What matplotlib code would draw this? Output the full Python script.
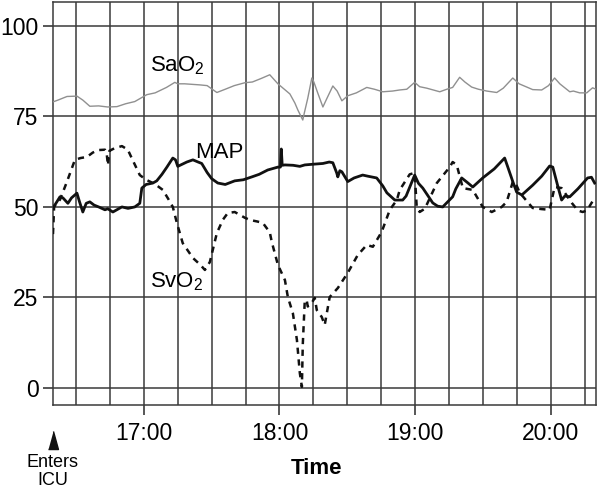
import matplotlib
matplotlib.use("Agg")
import matplotlib.pyplot as plt
from matplotlib.ticker import FixedLocator

plt.rcParams['font.family'] = ['Liberation Sans', 'DejaVu Sans']
plt.rcParams['mathtext.default'] = 'regular'

# time in minutes after 16:00
sao2_t = [19.8, 22, 26, 30.4, 33, 36.1, 40, 44, 48.1, 52, 56, 61.3, 65, 70, 73.7, 75, 78,
          84.8, 88, 92.3, 96, 100, 104.7, 108, 112, 115.7, 119.3, 121, 124.6, 126.8, 128.1,
          129.5, 130.3, 131, 132.5, 134.3, 135.2, 136.9, 139.2, 141, 143.6, 145.5, 147.6,
          150.2, 154, 158.6, 162, 165.7, 170, 173.2, 176.3, 179.8, 182, 185.1, 188, 190.9,
          194, 196.6, 199.7, 202, 205, 208, 211.7, 213.9, 216.1, 219, 223.2, 226, 229.4,
          232.0, 236.0, 239, 241.7, 244, 246, 248.4, 250, 252.8, 255.9, 258.5, 260]
sao2_v = [79.0, 79.5, 80.5, 80.6, 79.5, 77.8, 77.9, 77.6, 77.7, 78.5, 79.1, 81.0, 81.5, 83.0,
          84.4, 84.0, 84.0, 83.7, 83.5, 81.6, 82.5, 83.5, 84.3, 84.5, 85.5, 86.5, 84.0, 83.1,
          81.2, 78.7, 76.8, 75.0, 74.0, 76.0, 80.0, 85.6, 84.5, 81.5, 77.6, 80.0, 83.4, 82.0,
          79.3, 80.7, 81.5, 83.0, 82.5, 81.8, 82.0, 82.3, 82.5, 84.4, 83.2, 82.8, 82.3, 81.8,
          82.5, 83.0, 85.8, 84.5, 83.1, 82.5, 82.0, 81.8, 81.6, 82.8, 85.6, 84.0, 83.1, 82.4,
          82.3, 83.5, 85.6, 84.0, 83.0, 81.8, 82.0, 81.5, 81.5, 82.9, 82.5]

map_t = [19.8, 20.6, 22.9, 24.2, 26.4, 28, 30.4, 31.5, 33.0, 34.5, 36.1, 38, 40, 42.8, 44,
         46.3, 48, 50.3, 53, 56.0, 58.2, 59.1, 61, 64.0, 65.7, 68, 70.2, 72.8, 74, 75.0, 77,
         79.0, 81.7, 84, 85.6, 88, 90, 92.7, 96, 100.2, 104, 107.8, 111, 114.8, 119.3, 120.4,
         120.8, 121.2, 122.4, 126, 129, 131.2, 135, 139.2, 142, 143.6, 145.3, 145.8, 146.7,
         147.6, 150.2, 153, 156.8, 159, 163.0, 165.7, 167.5, 171.0, 174.5, 176, 179.8, 181.5,
         183.4, 187.8, 190, 192.2, 196.6, 198, 200.6, 203, 205.5, 209.9, 215, 219.6, 221,
         223.2, 224.9, 227.2, 232, 236, 239.5, 240.9, 243, 244.8, 246.2, 248.4, 252, 256.3,
         258, 259.4]
map_v = [50.0, 50.5, 52.8, 52.5, 51.0, 52.5, 53.8, 51.5, 48.6, 51.0, 51.4, 50.5, 50.0, 49.2,
         49.5, 48.6, 49.2, 50.0, 49.6, 50.0, 51.0, 55.2, 56.2, 56.6, 57.2, 59.0, 61.0, 63.5,
         63.0, 61.2, 61.8, 62.4, 63.0, 62.4, 62.0, 59.5, 57.8, 56.6, 56.2, 57.2, 57.5, 58.3,
         59.0, 60.2, 61.0, 61.0, 66.0, 61.5, 61.6, 61.5, 61.2, 61.6, 61.8, 62.0, 62.4, 62.2,
         59.4, 58.3, 60.0, 59.7, 57.0, 58.0, 58.8, 58.5, 58.0, 55.8, 53.9, 51.9, 51.9, 53.0,
         58.8, 56.5, 55.2, 51.1, 50.2, 50.0, 52.8, 55.0, 58.0, 56.8, 55.5, 58.0, 60.5, 63.5,
         61.0, 57.0, 54.1, 53.3, 56.0, 58.5, 61.3, 61.0, 56.0, 51.9, 53.0, 52.8, 55.0, 58.0,
         58.2, 56.6]

svo2_t = [19.8, 20.3, 21.5, 22.9, 26, 29.5, 32, 34.8, 37.4, 39.7, 42.8, 43.6, 44.1, 44.8, 47,
          50.3, 52.9, 55, 58.2, 61, 64.0, 66, 68.4, 71, 72.8, 74.6, 77.2, 81.7, 85, 87.0, 89.2,
          92.3, 95, 97.1, 100.2, 104.7, 106.9, 110, 112.6, 115.7, 116.6, 119.3, 122.4, 123.7,
          125.9, 127.7, 129.0, 129.9, 130.3, 131.2, 132.1, 132.5, 134.3, 135.6, 136.5, 138.7,
          140.0, 142.2, 145.8, 150.2, 154.6, 158.6, 161.3, 165.2, 168.8, 171.9, 173.2, 177.6,
          179.8, 180.7, 182.0, 184.3, 189.6, 195.3, 196.6, 198.4, 201.1, 205.5, 209.9, 213.9,
          218.3, 220.5, 223.2, 224.1, 226.3, 232.0, 236, 239.5, 241.7, 244.8, 249.3, 252,
          254.1, 256, 259.4]
svo2_v = [42.5, 50.0, 51.0, 52.0, 57.0, 63.0, 63.5, 63.8, 65.0, 65.7, 65.8, 64.5, 61.5, 65.5,
          66.2, 66.8, 65.8, 63.0, 58.8, 57.5, 56.6, 55.8, 54.7, 52.0, 50.0, 45.6, 40.0, 35.9,
          34.0, 32.6, 34.8, 42.8, 46.5, 48.3, 48.6, 47.0, 46.4, 46.0, 45.6, 43.0, 40.3, 34.0,
          29.8, 25.1, 20.7, 13.3, 4.1, 0.3, 12.0, 24.3, 24.0, 22.5, 23.5, 24.9, 21.5, 19.6,
          17.4, 25.1, 27.6, 31.8, 36.7, 39.5, 39.0, 43.1, 49.2, 51.9, 54.7, 59.0, 59.4, 50.0,
          48.6, 49.5, 56.6, 61.0, 62.4, 61.6, 55.2, 54.7, 50.0, 48.6, 50.0, 51.4, 56.9, 57.0,
          53.9, 49.7, 49.4, 49.2, 55.5, 55.2, 51.1, 49.0, 48.6, 49.0, 52.5]

hour_ticks = [60, 120, 180, 240]
hour_labels = ['17:00', '18:00', '19:00', '20:00']
quarter_grid = [30, 45, 75, 90, 105, 135, 150, 165, 195, 210, 225, 255]
y_ticks = [0, 25, 50, 75, 100]

fig = plt.figure(figsize=(6.0, 4.93), dpi=100)
ax = fig.add_axes([0.0883, 0.1785, 0.905, 0.8175])

gc = '#3a3a3a'
ax.plot(sao2_t, sao2_v, color='#909090', lw=1.0, zorder=3)
ax.plot(map_t, map_v, color='#111111', lw=2.0, zorder=4)
ax.plot(svo2_t, svo2_v, color='#111111', lw=1.8, linestyle=(0, (2.5, 2.2)), zorder=4)

ax.set_xlim(19.8, 260)
ax.set_ylim(-4.7, 106.6)

ax.xaxis.set_major_locator(FixedLocator(hour_ticks))
ax.set_xticklabels(hour_labels)
ax.xaxis.set_minor_locator(FixedLocator(quarter_grid))
ax.yaxis.set_major_locator(FixedLocator(y_ticks))
ax.tick_params(axis='x', which='major', direction='out', length=7.5, width=1.2,
               color=gc, labelsize=16.5, pad=4.5)
ax.tick_params(axis='x', which='minor', length=0)
ax.tick_params(axis='y', which='major', direction='out', length=7.5, width=1.2,
               color=gc, labelsize=16.5, pad=3)
ax.grid(True, which='both', axis='x', color=gc, lw=1.1)
ax.grid(True, which='major', axis='y', color=gc, lw=1.1)
ax.set_axisbelow(True)
for s in ax.spines.values():
    s.set_color(gc)
    s.set_linewidth(1.1)

ax.text(62.7, 87.3, 'SaO$_2$', fontsize=16, ha='left', va='baseline', zorder=5)
ax.text(82.6, 63.5, 'MAP', fontsize=16, ha='left', va='baseline', zorder=5)
ax.text(62.7, 27.9, 'SvO$_2$', fontsize=16, ha='left', va='baseline', zorder=5)

ax.plot([19.8], [-14.4], marker=[(-0.55, -1), (0.55, -1), (0, 1)], markersize=13,
        color='#111111', clip_on=False, linestyle='none')
ax.text(19.8, -18.3, 'Enters\nICU', fontsize=13, ha='center', va='top',
        linespacing=1.05, clip_on=False)

fig.text(0.528, 0.05, 'Time', fontsize=16, fontweight='bold', ha='center', va='center')

fig.savefig('out.png', dpi=100)
